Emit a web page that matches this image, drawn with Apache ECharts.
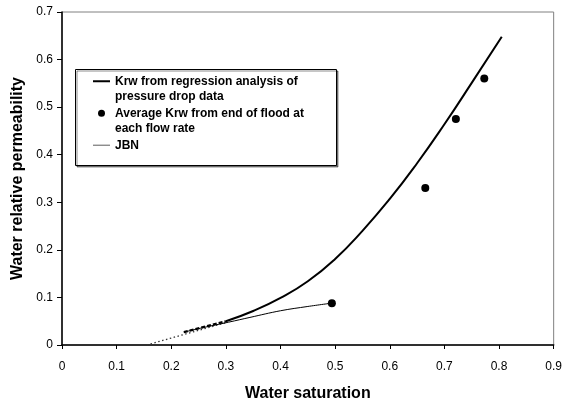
<!DOCTYPE html>
<html>
<head>
<meta charset="utf-8">
<script src="https://cdn.jsdelivr.net/npm/echarts@6/dist/echarts.min.js"></script>
<style>html,body{margin:0;padding:0;background:#fff}#c{width:565px;height:407px}</style>
</head>
<body>
<div id="c"></div>
<script>
// Data
var xTicks = [0, 0.1, 0.2, 0.3, 0.4, 0.5, 0.6, 0.7, 0.8, 0.9];
var yTicks = [0, 0.1, 0.2, 0.3, 0.4, 0.5, 0.6, 0.7];
var seriesNames = [
  'Krw from regression analysis of\npressure drop data',
  'Average Krw from end of flood at\neach flow rate',
  'JBN'
];
var krwX = [0.30, 0.35, 0.40, 0.45, 0.50, 0.55, 0.60, 0.65, 0.70, 0.75, 0.805];
var krwY = [0.050, 0.0715, 0.099, 0.134, 0.181, 0.240, 0.307, 0.382, 0.464, 0.551, 0.648];
var avgX = [0.494, 0.665, 0.721, 0.773];
var avgY = [0.088, 0.330, 0.475, 0.560];
var jbnX = [0.223, 0.26, 0.305, 0.344, 0.40, 0.45, 0.494];
var jbnY = [0.027, 0.037, 0.048, 0.058, 0.072, 0.081, 0.088];
var dashX = [0.223, 0.30];
var dashY = [0.027, 0.050];
var dotX = [0.155, 0.30];
var dotY = [0.0, 0.047];

function pairs(xs, ys) { return xs.map(function (x, i) { return [x, ys[i]]; }); }

var font = '"Liberation Sans", Arial, sans-serif';
var lineIcon = 'path://M0,0H17V2H0Z';
var chart = echarts.init(document.getElementById('c'), null, {renderer: 'canvas'});
chart.setOption({
  animation: false,
  backgroundColor: '#fff',
  grid: {left: 62, right: 11, top: 12, bottom: 61, show: true, borderColor: '#808080', borderWidth: 1, backgroundColor: 'transparent'},
  xAxis: {
    type: 'value', min: 0, max: 0.9, interval: 0.1,
    name: 'Water saturation', nameLocation: 'middle', nameGap: 41,
    nameTextStyle: {fontFamily: font, fontSize: 16, fontWeight: 'bold', color: '#000'},
    axisLine: {show: true, lineStyle: {color: '#000', width: 1.5}},
    axisTick: {show: true, length: 4, lineStyle: {color: '#000'}},
    axisLabel: {fontFamily: font, fontSize: 12, color: '#000', margin: 16,
      formatter: function (v) { var i = xTicks.indexOf(Math.round(v * 10) / 10); return i >= 0 ? String(xTicks[i]) : ''; }},
    splitLine: {show: false}
  },
  yAxis: {
    type: 'value', min: 0, max: 0.7, interval: 0.1,
    name: 'Water relative permeability', nameLocation: 'middle', nameGap: 34,
    nameTextStyle: {fontFamily: font, fontSize: 16, fontWeight: 'bold', color: '#000'},
    axisLine: {show: true, lineStyle: {color: '#000', width: 1.5}},
    axisTick: {show: true, length: 5, lineStyle: {color: '#000'}},
    axisLabel: {fontFamily: font, fontSize: 12, color: '#000', margin: 9,
      formatter: function (v) { var i = yTicks.indexOf(Math.round(v * 10) / 10); return i >= 0 ? String(yTicks[i]) : ''; }},
    splitLine: {show: false}
  },
  graphic: [{
    type: 'rect', z: 3, left: 75, top: 69,
    shape: {width: 261, height: 96},
    style: {fill: '#fff', stroke: '#000', lineWidth: 1, shadowColor: 'rgba(0,0,0,0.45)', shadowOffsetX: 1.5, shadowOffsetY: 1.5, shadowBlur: 0}
  }],
  legend: {
    z: 6, orient: 'vertical', left: 93, top: 58, padding: 0,
    itemWidth: 17, itemHeight: 7, itemGap: -14.5, selectedMode: false,
    textStyle: {fontFamily: font, fontSize: 12, fontWeight: 'bold', color: '#000', lineHeight: 15.5},
    formatter: function (name) {
      // pad so that the icon lines up with the first text line
      return name.indexOf('\n') >= 0 ? ' \n' + name : ' \n' + name + '\n ';
    },
    data: [
      {name: seriesNames[0], icon: lineIcon, itemStyle: {color: '#000'}},
      {name: seriesNames[1], icon: 'circle', itemStyle: {color: '#000'}},
      {name: seriesNames[2], icon: 'path://M0,0H17V1.3H0Z', itemStyle: {color: '#808080'}}
    ]
  },
  series: [
    {name: seriesNames[0], type: 'line', data: pairs(krwX, krwY), smooth: 0.5, symbol: 'none',
      lineStyle: {color: '#000', width: 2}, itemStyle: {color: '#000'}, z: 4},
    {name: seriesNames[1], type: 'scatter', data: pairs(avgX, avgY), symbol: 'circle', symbolSize: 8,
      itemStyle: {color: '#000', opacity: 1}, z: 5},
    {name: seriesNames[2], type: 'line', data: pairs(jbnX, jbnY), smooth: 0.4, symbol: 'none',
      lineStyle: {color: '#000', width: 1}, itemStyle: {color: '#000'}, z: 4},
    {name: 'dashed', type: 'line', data: pairs(dashX, dashY), symbol: 'none',
      lineStyle: {color: '#000', width: 2.2, type: [4, 2]}, z: 4},
    {name: 'dotted', type: 'line', data: pairs(dotX, dotY), symbol: 'none',
      lineStyle: {color: '#333', width: 1.3, type: [1.5, 2.5]}, z: 3}
  ]
});
</script>
</body>
</html>
